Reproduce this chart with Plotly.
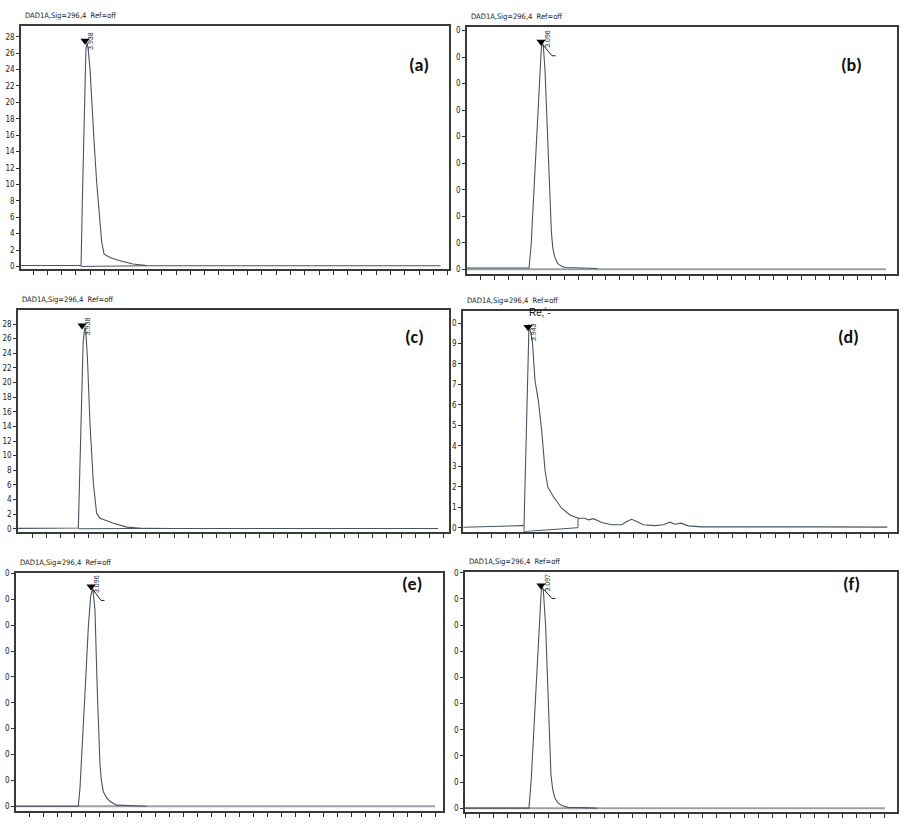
import plotly.graph_objects as go

TITLE = "DAD1A,Sig=296,4  Ref=off"
PANEL_LABELS = ["(a)", "(b)", "(c)", "(d)", "(e)", "(f)"]
PEAK_LABELS = ["3.938", "3.096", "3.938", "3.943", "3.096", "3.097"]

# signal traces (time in minutes, absorbance in mAU units of each panel)
t_a = [-0.84, 3.36, 3.45, 3.60, 3.70, 3.78, 3.85, 3.99, 4.10, 4.27, 4.45, 4.64, 4.80, 4.97, 5.38, 6.08, 6.99, 7.95, 10.0, 28.5]
v_a = [0.12, 0.12, 8.0, 22.0, 26.5, 27.3, 26.6, 24.0, 20.0, 15.2, 10.3, 6.3, 3.0, 1.5, 1.1, 0.7, 0.3, 0.1, 0.08, 0.08]
base_a_t = [3.36, 7.95]
base_a_v = [0.0, 0.08]

t_b = [-0.93, 3.50, 3.65, 3.81, 4.05, 4.29, 4.38, 4.45, 4.53, 4.64, 4.83, 5.00, 5.10, 5.20, 5.35, 5.55, 5.80, 6.07, 8.40]
v_b = [0.05, 0.05, 0.9, 2.55, 5.04, 7.54, 8.35, 8.6, 8.35, 7.54, 5.04, 2.55, 1.4, 0.8, 0.45, 0.22, 0.12, 0.07, 0.03]

t_c = [-0.99, 3.26, 3.45, 3.60, 3.70, 3.78, 3.90, 4.08, 4.32, 4.55, 4.79, 5.73, 6.67, 7.84, 10.0, 28.6]
v_c = [0.05, 0.1, 14.4, 25.5, 27.5, 27.2, 23.4, 14.4, 6.2, 2.1, 1.45, 0.77, 0.23, 0.05, 0.03, 0.03]
base_c_t = [3.26, 7.84]
base_c_v = [0.0, 0.05]

t_d = [-0.96, 3.22, 3.31, 3.50, 3.66, 3.90, 4.08, 4.32, 4.55, 4.79, 4.98, 5.38, 5.96, 6.55, 7.14, 7.60, 7.84, 8.20,
       8.78, 9.48, 10.19, 10.54, 10.89, 11.25, 11.71, 12.54, 13.12, 13.59, 13.94, 14.37, 14.88, 15.82, 20.0, 24.0, 28.9]
v_d = [0.03, 0.11, 0.15, 5.1, 9.94, 9.1, 7.2, 6.2, 4.76, 2.8, 2.0, 1.52, 0.96, 0.63, 0.47, 0.47, 0.39, 0.45,
       0.26, 0.15, 0.15, 0.31, 0.42, 0.31, 0.15, 0.11, 0.15, 0.28, 0.18, 0.23, 0.1, 0.05, 0.06, 0.05, 0.04]
base_d_t = [3.31, 3.31, 7.11, 7.11]
base_d_v = [0.15, -0.18, 0.01, 0.48]

t_e = [-0.93, 3.52, 3.64, 3.76, 4.00, 4.24, 4.40, 4.55, 4.66, 4.71, 4.88, 5.07, 5.18, 5.31, 5.55, 5.79, 6.26, 8.40]
v_e = [0.0, 0.0, 0.7, 1.85, 4.4, 6.97, 8.1, 8.45, 8.0, 7.6, 4.4, 1.6, 0.95, 0.56, 0.32, 0.18, 0.04, 0.0]

t_f = [-1.0, 3.57, 3.72, 3.88, 4.12, 4.36, 4.45, 4.52, 4.60, 4.76, 4.95, 5.14, 5.27, 5.43, 5.65, 5.90, 6.38, 8.40]
v_f = [0.0, 0.0, 1.0, 2.54, 5.07, 7.6, 8.35, 8.49, 8.3, 6.97, 3.8, 1.27, 0.7, 0.38, 0.2, 0.1, 0.03, 0.0]

W, H = 906, 828
# frames in pixels: left, right, top, bottom
frames = [(21, 449, 23, 268), (467, 897, 24, 273), (18, 449, 309, 532),
          (463, 897, 310, 532), (16, 443, 573, 813), (465, 897, 572, 814)]
xranges = [[-0.84, 29.09], [-0.93, 29.79], [-0.99, 29.37], [-0.99, 29.58], [-0.93, 29.57], [-1.0, 29.86]]
yranges = [[-0.36, 29.33], [-0.19, 9.14], [-0.41, 29.9], [-0.19, 10.58], [-0.19, 9.04], [-0.15, 9.05]]

series = [(t_a, v_a), (t_b, v_b), (t_c, v_c), (t_d, v_d), (t_e, v_e), (t_f, v_f)]
CURVE = "#4a5263"
FRAME = "#3a3a3a"

fig = go.Figure()
layout = dict(width=W, height=H, margin=dict(l=0, r=0, t=0, b=0), showlegend=False,
              paper_bgcolor="white", plot_bgcolor="white", annotations=[])

for i, ((l, r, tp, bt), xr, yr, (tt, vv)) in enumerate(zip(frames, xranges, yranges, series)):
    k = "" if i == 0 else str(i + 1)
    xa, ya = "x" + k, "y" + k
    # grey integration baseline across the full width for b, e, f
    if i in (1, 4, 5):
        fig.add_trace(go.Scatter(x=[xr[0], 29.0], y=[0, 0], mode="lines",
                                 line=dict(color="#9ca1a8", width=2), xaxis=xa, yaxis=ya, hoverinfo="skip"))
    fig.add_trace(go.Scatter(x=tt, y=vv, mode="lines", line=dict(color=CURVE, width=1.1),
                             xaxis=xa, yaxis=ya))
    xd = dict(domain=[l / W, r / W], range=xr, anchor=ya, showgrid=False, zeroline=False,
              showline=True, mirror=True, linecolor=FRAME, linewidth=1.5,
              ticks="outside", ticklen=4, tickcolor="#333", tickwidth=1,
              tick0=0, dtick=1, showticklabels=False)
    if i in (0, 2):
        yd = dict(tick0=0, dtick=2, showticklabels=True)
    elif i == 3:
        yd = dict(tickmode="array", tickvals=list(range(11)),
                  ticktext=["0", "1", "2", "3", "4", "5", "6", "7", "8", "9", "0"])
    else:
        yd = dict(tickmode="array", tickvals=list(range(10)), ticktext=["0"] * 10)
    yd.update(domain=[1 - bt / H, 1 - tp / H], range=yr, anchor=xa, showgrid=False, zeroline=False,
              showline=True, mirror=True, linecolor=FRAME, linewidth=1.5,
              ticks="outside", ticklen=3, tickcolor="#333", tickwidth=1,
              tickfont=dict(size=8, color="#222", family="Liberation Sans Narrow, DejaVu Sans Condensed, Liberation Sans"))
    layout["xaxis" + k] = xd
    layout["yaxis" + k] = yd
    # title text above each panel
    layout["annotations"].append(dict(text=TITLE, xref="paper", yref="paper", x=(l + 2) / W, y=1 - (tp - 4) / H,
                                      xanchor="left", yanchor="bottom", showarrow=False,
                                      font=dict(size=7.5, color="#222",
                                                family="Liberation Sans Narrow, DejaVu Sans Condensed, Liberation Sans")))

# integration baselines
for (bt_, bv_), k in [((base_a_t, base_a_v), ""), ((base_c_t, base_c_v), "3"), ((base_d_t, base_d_v), "4")]:
    fig.add_trace(go.Scatter(x=bt_, y=bv_, mode="lines", line=dict(color=CURVE, width=1),
                             xaxis="x" + k, yaxis="y" + k, hoverinfo="skip"))

# peak markers and retention time labels (data coordinates of each panel)
peaks = [
    ("", 3.64, 27.5, 4.06, 27.5, None),
    ("2", 4.36, 8.58, 4.86, 8.69, (4.5, 8.46, 5.14, 8.05)),
    ("3", 3.52, 27.8, 3.87, 27.7, None),
    ("4", 3.59, 9.80, 3.94, 9.56, None),
    ("5", 4.43, 8.50, 4.86, 8.60, (4.57, 8.38, 5.14, 7.96)),
    ("6", 4.43, 8.52, 4.93, 8.63, (4.57, 8.40, 5.21, 8.02)),
]
for (k, mx, my, lx, ly, diag), lab in zip(peaks, PEAK_LABELS):
    fig.add_trace(go.Scatter(x=[mx], y=[my], mode="markers",
                             marker=dict(symbol="triangle-down", size=8, color="black"),
                             xaxis="x" + k, yaxis="y" + k, hoverinfo="skip"))
    layout["annotations"].append(dict(text=lab, xref="x" + k, yref="y" + k, x=lx, y=ly, textangle=-90,
                                      showarrow=False, font=dict(size=7, color="#222", family="Liberation Sans")))
    if diag:
        fig.add_trace(go.Scatter(x=[diag[0], diag[2], diag[2] + 0.25], y=[diag[1], diag[3], diag[3]], mode="lines",
                                 line=dict(color="#222", width=1), xaxis="x" + k, yaxis="y" + k, hoverinfo="skip"))

layout["annotations"].append(dict(text="Re\u201a\u00b4-", xref="x4", yref="y4", x=4.4, y=10.5, showarrow=False,
                                  font=dict(size=10, color="#111", family="Liberation Sans")))

# panel letters
letter_pos = [(419, 49), (864, 49), (414, 336), (861, 336), (412, 598), (862, 598)]
for lab, (px, py) in zip(PANEL_LABELS, letter_pos):
    layout["annotations"].append(dict(text="<b>" + lab + "</b>", xref="paper", yref="paper",
                                      x=px / W, y=1 - py / H, showarrow=False,
                                      font=dict(size=18, color="#111", family="Carlito, Open Sans, Liberation Sans")))

fig.update_layout(**layout)
fig.write_html("out.html", config={"displayModeBar": False})
